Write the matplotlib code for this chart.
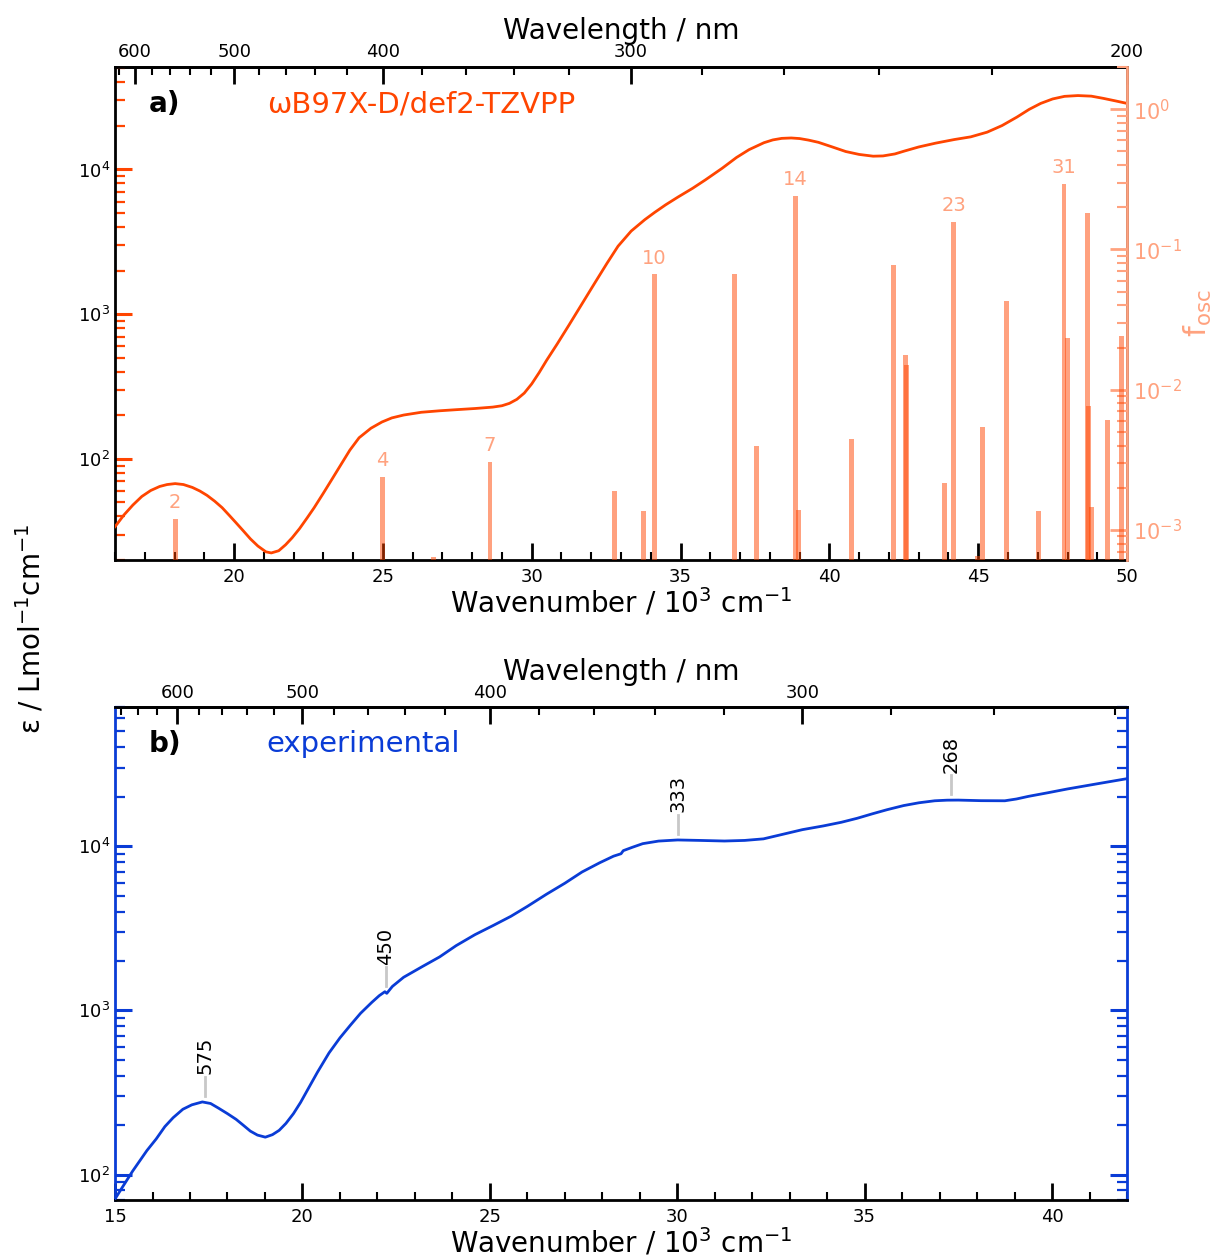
import numpy as np
import matplotlib
matplotlib.use("Agg")
import matplotlib.pyplot as plt
from matplotlib.ticker import FixedLocator, LogLocator, NullFormatter

# ---------------- data ----------------
# computed spectrum (wB97X-D/def2-TZVPP), wavenumber in 10^3 cm^-1, epsilon
calc_wn = [16.0, 16.3, 16.6, 16.9, 17.2, 17.5, 17.75, 18.02, 18.3, 18.6, 18.85, 19.09, 19.35,
           19.6, 19.85, 20.05, 20.3, 20.55, 20.8, 21.07, 21.25, 21.5, 21.73, 21.95, 22.2,
           22.45, 22.69, 23.0, 23.3, 23.6, 23.89, 24.2, 24.6, 24.97, 25.3, 25.7, 26.29, 26.9,
           27.49, 28.1, 28.69, 29.0, 29.25, 29.5, 29.75, 30.0, 30.25, 30.5, 30.85, 31.25,
           31.69, 32.1, 32.53, 32.9, 33.34, 33.8, 34.13, 34.5, 34.91, 35.4, 35.83, 36.4,
           36.88, 37.3, 37.8, 38.1, 38.4, 38.72, 39.0, 39.3, 39.63, 40.1, 40.55, 41.0, 41.47,
           41.8, 42.2, 42.52, 43.0, 43.57, 44.2, 44.75, 45.3, 45.8, 46.3, 46.71, 47.1, 47.5,
           47.9, 48.35, 48.8, 49.2, 49.6, 50.0]
calc_eps = [34, 41, 48, 55, 60.5, 64.5, 66.5, 67.5, 66.5, 63.5, 60, 56, 51,
            46, 40.5, 36.5, 32, 28, 25, 22.8, 22.4, 23.2, 25.5, 28.5, 33,
            39, 46, 58, 73, 92, 115, 140, 163, 180, 192, 201, 210, 215,
            219, 223, 228, 233, 242, 258, 285, 330, 395, 480, 620, 840,
            1180, 1620, 2250, 2950, 3750, 4500, 5050, 5700, 6440, 7400, 8460, 10200,
            12100, 13700, 15300, 16000, 16400, 16500, 16350, 15950, 15400, 14300, 13300, 12700, 12350,
            12400, 12800, 13400, 14300, 15200, 16100, 16800, 18100, 20100, 23000, 26000, 28600, 30700,
            32000, 32400, 32100, 31000, 29800, 28600]

# oscillator strengths (stick spectrum)
osc_wn = [18.02, 24.99, 26.70, 28.60, 32.77, 33.76, 34.13, 36.80, 37.56, 38.85, 38.97,
          40.74, 42.16, 42.55, 42.58, 43.88, 44.18, 44.98, 45.14, 45.94, 47.03, 47.88,
          48.01, 48.67, 48.71, 48.81, 49.34, 49.81]
osc_f = [1.2e-3, 2.4e-3, 6.4e-4, 3.06e-3, 1.9e-3, 1.36e-3, 0.0664, 0.0668, 4.0e-3, 0.241, 1.39e-3,
         4.43e-3, 0.0769, 0.0176, 0.0149, 2.17e-3, 0.157, 6.5e-4, 5.46e-3, 0.043, 1.36e-3, 0.294,
         0.0233, 0.183, 7.7e-3, 1.46e-3, 6.04e-3, 0.0242]
state_labels = ["2", "4", "7", "10", "14", "23", "31"]
state_wn = [18.02, 24.99, 28.60, 34.13, 38.85, 44.18, 47.88]
state_f = [1.2e-3, 2.4e-3, 3.06e-3, 0.0664, 0.241, 0.157, 0.294]

# experimental spectrum
exp_wn = [15.0, 15.2, 15.47, 15.85, 16.1, 16.33, 16.55, 16.81, 17.05, 17.33, 17.55, 17.76,
          18.0, 18.23, 18.42, 18.61, 18.8, 19.01, 19.2, 19.38, 19.56, 19.76, 19.95, 20.14,
          20.4, 20.71, 21.0, 21.28, 21.55, 21.85, 22.05, 22.2, 22.25, 22.4, 22.7, 23.2,
          23.66, 24.1, 24.6, 25.1, 25.56, 26.0, 26.51, 27.0, 27.46, 27.93, 28.3, 28.5,
          28.56, 28.8, 29.08, 29.5, 30.01, 30.6, 31.26, 31.8, 32.3, 32.8, 33.34, 33.9,
          34.38, 34.8, 35.21, 35.6, 36.04, 36.45, 36.87, 37.2, 37.5, 38.1, 38.74, 39.05,
          39.37, 39.9, 40.41, 41.2, 42.0]
exp_eps = [71, 84, 105, 140, 165, 196, 222, 250, 266, 277, 271, 254,
           235, 217, 200, 184, 174, 169, 175, 186, 205, 235, 275, 329,
           420, 551, 680, 813, 960, 1119, 1230, 1300, 1270, 1400, 1592, 1850,
           2118, 2480, 2891, 3300, 3741, 4300, 5100, 5950, 6970, 7930, 8700, 9000,
           9400, 9850, 10370, 10750, 10920, 10850, 10760, 10850, 11090, 11800, 12620, 13300,
           14000, 14800, 15770, 16700, 17690, 18400, 18920, 19080, 19100, 18950, 18920, 19400,
           20130, 21200, 22330, 24000, 25800]

peak_nm = [575, 450, 333, 268]
peak_eps = [277, 1290, 10920, 19100]

wl_major_a = [600, 500, 400, 300, 200]
wl_major_b = [600, 500, 400, 300]

# ---------------- style ----------------
C_CALC = "#ff4500"
C_OSC = "#ffa27f"
C_EXP = "#0a3cd6"
plt.rcParams["font.family"] = "DejaVu Sans"

fig = plt.figure(figsize=(12.12, 12.58), dpi=100)
ax1 = fig.add_axes([0.0949, 0.5548, 0.835, 0.3919])
ax2 = fig.add_axes([0.0949, 0.0461, 0.835, 0.3915])


def wn2wl(x):
    x = np.asarray(x, dtype=float)
    with np.errstate(divide="ignore"):
        return 1e4 / x


def setup_common(ax, xlim, wl_major, tickcolor_left):
    ax.set_xlim(*xlim)
    ax.set_yscale("log")
    for s in ax.spines.values():
        s.set_linewidth(2.0)
    ax.xaxis.set_major_locator(FixedLocator(np.arange(15, 51, 5)))
    ax.xaxis.set_minor_locator(FixedLocator(np.arange(15, 51, 1)))
    ax.tick_params(axis="x", which="major", direction="in", length=12, width=2,
                   labelsize=13, pad=6)
    ax.tick_params(axis="x", which="minor", direction="in", length=6, width=1.5)
    ax.tick_params(axis="y", which="major", direction="in", length=12, width=2.2,
                   colors=tickcolor_left, labelcolor="black", labelsize=13)
    ax.tick_params(axis="y", which="minor", direction="in", length=7, width=1.6,
                   colors=tickcolor_left)
    ax.set_xlabel("Wavenumber / 10$^3$ cm$^{-1}$", fontsize=20, labelpad=0)
    sec = ax.secondary_xaxis("top", functions=(wn2wl, wn2wl))
    sec.xaxis.set_major_locator(FixedLocator(wl_major))
    sec.xaxis.set_minor_locator(FixedLocator(np.arange(200, 700, 20)))
    sec.tick_params(axis="x", which="major", direction="in", length=12, width=2,
                    labelsize=13, pad=4)
    sec.tick_params(axis="x", which="minor", direction="in", length=6, width=1.5)
    sec.spines["top"].set_linewidth(2.0)
    sec.set_xlabel("Wavelength / nm", fontsize=20, labelpad=3)
    return sec


# ---------------- panel a ----------------
setup_common(ax1, (16, 50), wl_major_a, C_CALC)
ax1.set_ylim(20, 5.1e4)
ax1.plot(calc_wn, calc_eps, color=C_CALC, lw=2.0, zorder=3)

ax1b = ax1.twinx()
ax1b.set_yscale("log")
ax1b.set_ylim(6.1e-4, 2.0)
ax1b.bar(osc_wn, osc_f, width=0.16, bottom=1e-6, color=C_CALC, alpha=0.5,
         linewidth=0, zorder=2)
for lab, x, f in zip(state_labels, state_wn, state_f):
    ax1b.text(x, f * 1.12, lab, color=C_OSC, fontsize=14, ha="center", va="bottom")
ax1b.spines["right"].set_color(C_OSC)
ax1b.spines["right"].set_linewidth(2.0)
for s in ["left", "top", "bottom"]:
    ax1b.spines[s].set_visible(False)
ax1b.yaxis.set_major_locator(LogLocator(base=10, numticks=10))
ax1b.yaxis.set_minor_locator(LogLocator(base=10, subs=np.arange(2, 10), numticks=10))
ax1b.yaxis.set_minor_formatter(NullFormatter())
ax1b.tick_params(axis="y", which="major", direction="in", length=12, width=2,
                 colors=C_OSC, labelsize=15, pad=4)
ax1b.tick_params(axis="y", which="minor", direction="in", length=7, width=1.5,
                 colors=C_OSC)
ax1b.set_ylabel("f$_{\\rm osc}$", color=C_OSC, fontsize=22, labelpad=0)

ax1.text(0.033, 0.925, "a)", transform=ax1.transAxes, fontsize=20,
         fontweight="bold", va="center", ha="left")
ax1.text(0.15, 0.925, "ωB97X-D/def2-TZVPP", transform=ax1.transAxes, fontsize=21,
         color=C_CALC, va="center", ha="left")

# ---------------- panel b ----------------
setup_common(ax2, (15, 42), wl_major_b, C_EXP)
ax2.set_ylim(70, 7e4)
ax2.spines["left"].set_color(C_EXP)
ax2.spines["right"].set_color(C_EXP)
ax2.tick_params(axis="y", which="both", right=True)
ax2.plot(exp_wn, exp_eps, color=C_EXP, lw=2.0, zorder=3)
for nm, e in zip(peak_nm, peak_eps):
    x = 1e4 / nm
    ax2.plot([x, x], [e * 1.09, e * 1.42], color="#c8c8c8", lw=2, zorder=2)
    ax2.text(x, e * 1.47, str(nm), rotation=90, fontsize=14, ha="center",
             va="bottom")
ax2.text(0.033, 0.925, "b)", transform=ax2.transAxes, fontsize=20,
         fontweight="bold", va="center", ha="left")
ax2.text(0.15, 0.925, "experimental", transform=ax2.transAxes, fontsize=21,
         color=C_EXP, va="center", ha="left")

fig.text(0.025, 0.5, "ε / Lmol$^{-1}$cm$^{-1}$", rotation=90, fontsize=20,
         va="center", ha="center")

fig.savefig("out.png", dpi=100)
